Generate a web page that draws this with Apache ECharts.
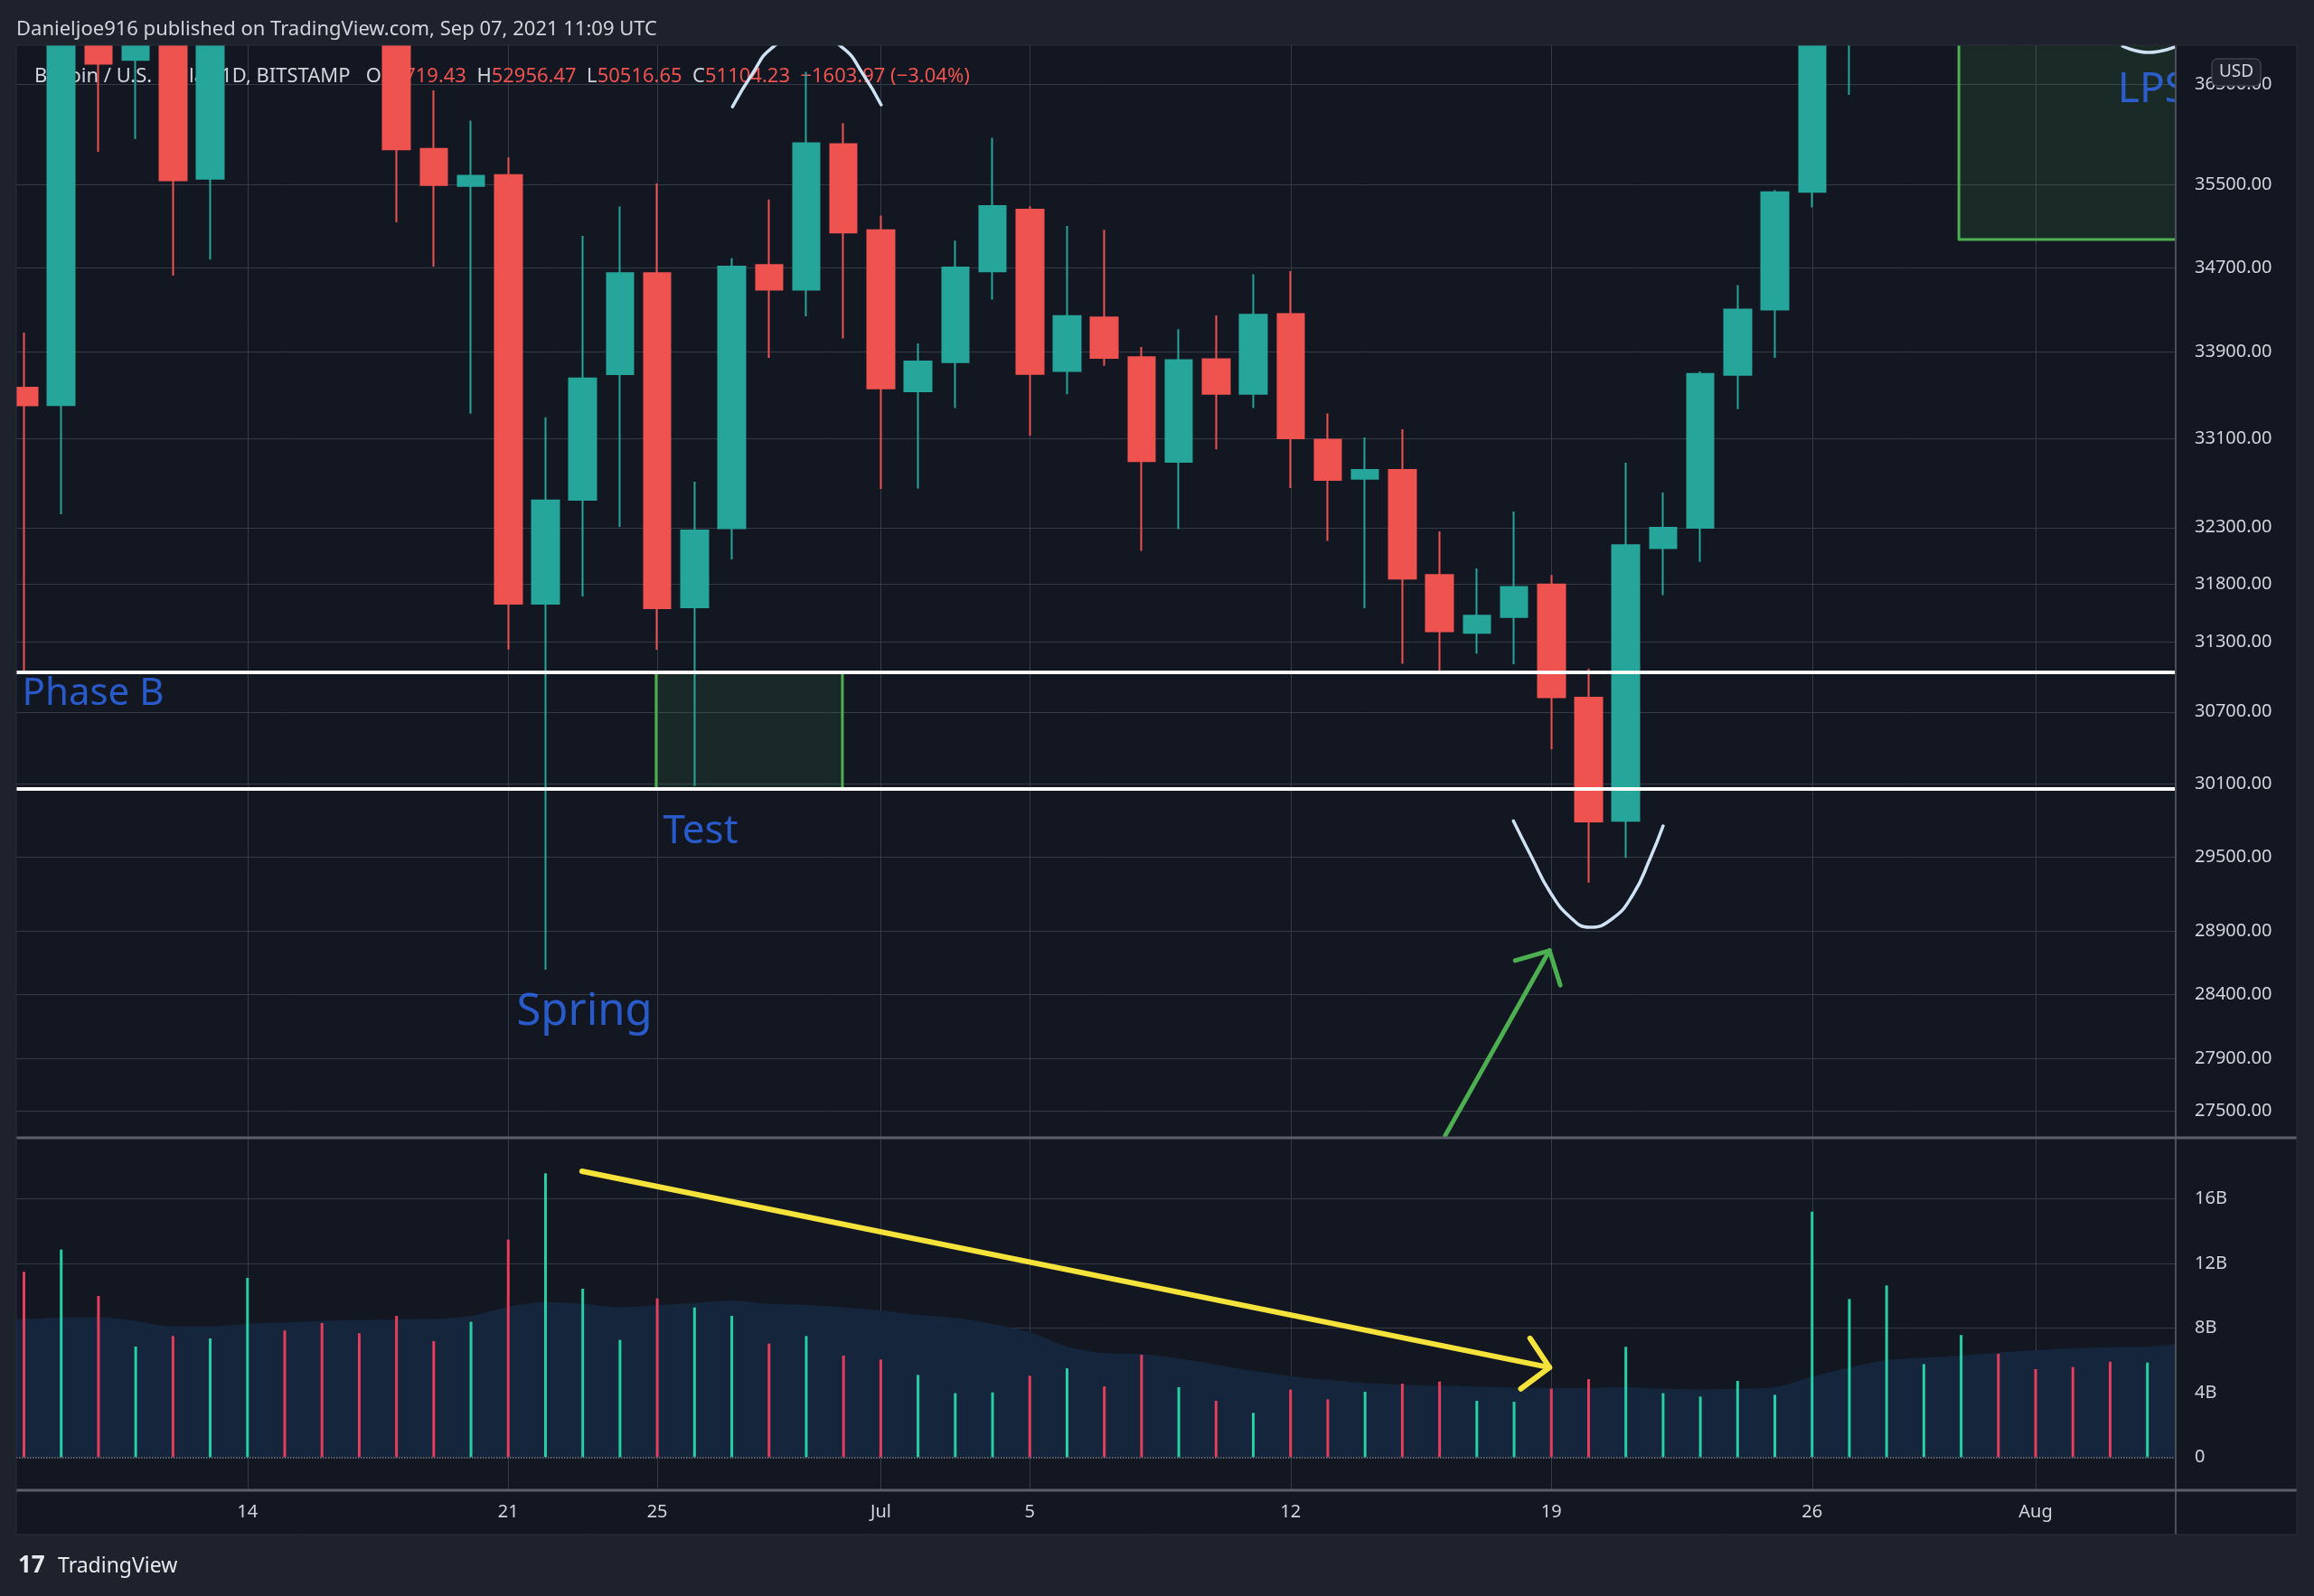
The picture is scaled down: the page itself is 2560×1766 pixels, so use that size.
<!DOCTYPE html>
<html>
<head>
<meta charset="utf-8">
<title>BTCUSD 1D - Bitstamp</title>
<script src="https://cdn.jsdelivr.net/npm/echarts@6/dist/echarts.min.js"></script>
<style>
  html, body { margin: 0; padding: 0; background: #1e222d; }
  #chart { width: 2560px; height: 1766px; }
</style>
</head>
<body>
<div id="chart"></div>
<script>
// daily bars, Jun 7 - Aug 5 2021 (bars above ~36.9k sit off the top of the pane)
const dates = [
  '2021-06-07', '2021-06-08', '2021-06-09', '2021-06-10', '2021-06-11', '2021-06-12', '2021-06-13', '2021-06-14',
  '2021-06-15', '2021-06-16', '2021-06-17', '2021-06-18', '2021-06-19', '2021-06-20', '2021-06-21', '2021-06-22',
  '2021-06-23', '2021-06-24', '2021-06-25', '2021-06-26', '2021-06-27', '2021-06-28', '2021-06-29', '2021-06-30',
  '2021-07-01', '2021-07-02', '2021-07-03', '2021-07-04', '2021-07-05', '2021-07-06', '2021-07-07', '2021-07-08',
  '2021-07-09', '2021-07-10', '2021-07-11', '2021-07-12', '2021-07-13', '2021-07-14', '2021-07-15', '2021-07-16',
  '2021-07-17', '2021-07-18', '2021-07-19', '2021-07-20', '2021-07-21', '2021-07-22', '2021-07-23', '2021-07-24',
  '2021-07-25', '2021-07-26', '2021-07-27', '2021-07-28', '2021-07-29', '2021-07-30', '2021-07-31', '2021-08-01',
  '2021-08-02', '2021-08-03', '2021-08-04', '2021-08-05'
];
const open = [
  35800, 33570, 33410, 37390, 36744, 37340, 35561, 39020, 40520, 40150, 38350, 38100, 35853, 35490, 35596, 31630,
  32548, 33695, 34646, 31599, 32294, 34724, 34490, 35900, 35059, 33536, 33807, 34664, 35258, 33725, 34226, 33854,
  32890, 33834, 33514, 34258, 33093, 32738, 32817, 31880, 31376, 31513, 31797, 30820, 29792, 32117, 32299, 33690,
  34300, 35432, 37270, 39460, 40020, 40040, 42210, 41460, 39850, 39150, 38200, 39740
];
const close = [
  33570, 33407, 37390, 36706, 37340, 35545, 39020, 40520, 40150, 38350, 38100, 35849, 35498, 35588, 31630, 32542,
  33656, 34646, 31590, 32274, 34710, 34490, 35910, 35036, 33564, 33813, 34700, 35293, 33698, 34239, 33846, 32898,
  33826, 33514, 34252, 33104, 32727, 32817, 31849, 31390, 31525, 31775, 30825, 29787, 32144, 32299, 33697, 34300,
  35427, 37270, 39460, 40020, 40040, 42210, 41460, 39850, 39150, 38200, 39740, 40880
];
const low = [
  33300, 31045, 32420, 35824, 35951, 34623, 34777, 38750, 39500, 38120, 37400, 35135, 34709, 33330, 31233, 28595,
  31692, 32306, 31230, 30080, 32018, 33846, 34236, 34028, 32647, 32651, 33381, 34395, 33129, 33510, 33774, 32094,
  32286, 33003, 33381, 32654, 32182, 31590, 31110, 31045, 31197, 31106, 30386, 29288, 29489, 31704, 31997, 33372,
  33846, 35280, 36390, 38800, 39220, 38350, 41050, 39450, 38700, 37650, 37520, 37350
];
const high = [
  36800, 34084, 37540, 38400, 37680, 37440, 39380, 41000, 41330, 40500, 39540, 38200, 36436, 36134, 35770, 33296,
  35004, 35289, 35513, 32711, 34790, 35356, 36623, 36110, 35200, 33981, 34959, 35962, 35290, 35100, 35063, 33947,
  34116, 34245, 34636, 34666, 33333, 33113, 33187, 32266, 31939, 32443, 31880, 31070, 32883, 32613, 33720, 34533,
  35450, 40550, 39540, 40900, 40650, 42320, 42400, 42600, 40400, 39750, 39950, 41400
];
// volume, billions
const volume = [
  9.0, 11.47, 12.85, 9.98, 6.85, 7.5, 7.35, 11.1, 7.84, 8.3, 7.67, 8.75, 7.18, 8.38, 13.47, 17.57,
  10.43, 7.26, 9.83, 9.27, 8.75, 7.03, 7.5, 6.29, 6.04, 5.09, 3.96, 4.01, 5.04, 5.5, 4.38, 6.34,
  4.33, 3.49, 2.74, 4.18, 3.58, 4.05, 4.55, 4.68, 3.49, 3.43, 4.24, 4.83, 6.83, 3.96, 3.75, 4.72,
  3.86, 15.2, 9.79, 10.63, 5.76, 7.56, 6.4, 5.45, 5.58, 5.91, 5.86, 9.5
];
// volume moving average, billions
const volumeMA = [
  8.5, 8.55, 8.65, 8.68, 8.43, 8.1, 8.1, 8.25, 8.34, 8.43, 8.49, 8.53, 8.56, 8.75, 9.31, 9.6,
  9.5, 9.27, 9.42, 9.55, 9.68, 9.5, 9.42, 9.27, 9.09, 8.8, 8.62, 8.25, 7.74, 6.85, 6.44, 6.38,
  6.1, 5.73, 5.35, 5.02, 4.79, 4.6, 4.5, 4.42, 4.37, 4.31, 4.29, 4.29, 4.33, 4.24, 4.2, 4.24,
  4.33, 4.98, 5.54, 6.0, 6.16, 6.29, 6.47, 6.62, 6.75, 6.81, 6.85, 7.1
];
const priceTicks = [36500, 35500, 34700, 33900, 33100, 32300, 31800, 31300, 30700, 30100, 29500, 28900, 28400, 27900, 27500];
const volumeTicks = [0, 4, 8, 12, 16];
const dateLabels = ['14', '21', '25', 'Jul', '5', '12', '19', '26', 'Aug'];
const dateLabelDays = ['2021-06-14', '2021-06-21', '2021-06-25', '2021-07-01', '2021-07-05', '2021-07-12', '2021-07-19', '2021-07-26', '2021-08-01'];

// drawn levels: phase B range lines
const rangeLines = [31040, 30055];

const chart = echarts.init(document.getElementById('chart'));

const upColor = '#26a69a';
const downColor = '#ef5350';
const volUp = '#27cfa6';
const volDown = '#e43d5e';
const gridColor = '#363a45';
const textColor = '#d1d4dc';
const noteBlue = '#2f6bf5';
const frameColor = '#1e222d';
const paneColor = '#131722';
const font = 'Noto Sans';

const xMin = 0.794, xMax = 58.76;
const priceMin = 27300, priceMax = 36893;
const tickIdx = dateLabelDays.map(d => dates.indexOf(d));

const candles = dates.map((d, i) => [i, open[i], close[i], low[i], high[i]]);
const volBars = dates.map((d, i) => ({
  value: [i, volume[i]],
  itemStyle: { color: close[i] >= open[i] ? volUp : volDown }
}));

// annotation drawings, in [day index, price] / [day index, volume]
const notes = [
  { text: 'Phase B', at: [0.94, 30852], size: 42 },
  { text: 'Test', at: [18.14, 29705], size: 44 },
  { text: 'Spring', at: [14.21, 28263], size: 49 },
  { text: 'LPS', at: [57.19, 36436], size: 46 }
];
const arcColor = '#cfe2f3';
const drawings = [
  // arc under the spring low
  { pts: [[40.98, 29792], [41.49, 29484], [41.96, 29216], [42.51, 29011], [43.02, 28931], [43.63, 28998], [44.19, 29192], [44.65, 29484], [45.0, 29750]], color: arcColor, width: 3.5, smooth: true },
  // arc at the top (mostly off-pane)
  { pts: [[20.02, 36272], [20.54, 36596], [21.09, 36870], [22.03, 37040], [22.97, 36870], [23.53, 36596], [24.01, 36292]], color: arcColor, width: 3.5, smooth: true },
  { pts: [[57.33, 36884], [58.03, 36819], [58.74, 36875]], color: arcColor, width: 3.5, smooth: true },
  // green arrow
  { pts: [[39.15, 27316], [41.95, 28746]], color: '#4caf50', width: 5 },
  { pts: [[41.03, 28667], [41.95, 28746], [42.24, 28473]], color: '#4caf50', width: 5 },
  // LPS box edges
  { pts: [[52.94, 38000], [52.94, 34969], [60, 34969]], color: '#4caf50', width: 3 }
];
const volDrawings = [
  { pts: [[15.98, 17.7], [41.95, 5.555]], color: '#f5e33b', width: 6 },
  { pts: [[41.43, 7.36], [41.95, 5.555], [41.18, 4.23]], color: '#f5e33b', width: 6 }
];

const lineSeries = (d, grid) => ({
  type: 'line',
  xAxisIndex: grid, yAxisIndex: grid,
  data: d.pts,
  smooth: d.smooth ? 0.5 : false,
  symbol: 'none',
  silent: true,
  z: 6,
  lineStyle: { color: d.color, width: d.width, cap: 'round', join: 'round' }
});

// horizontal reference lines drawn as markLines (log price scale needs hand-picked ticks)
const tickLines = (grid, values, z, lineStyle, label) => ({
  type: 'line', xAxisIndex: grid, yAxisIndex: grid, data: [], silent: true,
  markLine: {
    z: z, silent: true, symbol: 'none', animation: false,
    lineStyle: lineStyle,
    label: label,
    data: values.map(v => ({ yAxis: v }))
  }
});
const scaleLabel = fmt => ({
  position: 'end', distance: 21, color: textColor, fontSize: 20, fontFamily: font, formatter: fmt
});
const hidden = { color: 'rgba(0,0,0,0)', width: 1 };

const option = {
  backgroundColor: frameColor,
  animation: false,
  textStyle: { fontFamily: font },
  grid: [
    { left: 18, top: 50, width: 2389, height: 1209 },
    { left: 18, top: 1259, width: 2389, height: 390 }
  ],
  xAxis: [
    {
      type: 'value', gridIndex: 0, min: xMin, max: xMax,
      axisLine: { show: false },
      axisTick: { show: false, customValues: tickIdx },
      axisLabel: { show: false, customValues: tickIdx },
      splitLine: { show: true, lineStyle: { color: gridColor, width: 1 } }
    },
    {
      type: 'value', gridIndex: 1, min: xMin, max: xMax,
      axisLine: { show: false },
      axisTick: { show: false, customValues: tickIdx },
      axisLabel: {
        customValues: tickIdx,
        color: textColor, fontSize: 20, margin: 14,
        formatter: v => {
          const k = tickIdx.indexOf(Math.round(v));
          return k >= 0 ? dateLabels[k] : '';
        }
      },
      splitLine: { show: true, lineStyle: { color: gridColor, width: 1 } }
    }
  ],
  yAxis: [
    {
      type: 'log', gridIndex: 0, min: priceMin, max: priceMax, position: 'right',
      axisLine: { show: false }, axisTick: { show: false },
      axisLabel: { show: false }, splitLine: { show: false }
    },
    {
      type: 'value', gridIndex: 1, min: -2.05, max: 19.77, position: 'right',
      axisLine: { show: false },
      axisTick: { show: false, customValues: [4, 8, 12, 16] },
      axisLabel: { show: false },
      splitLine: { show: true, lineStyle: { color: gridColor, width: 1 } }
    }
  ],
  series: [
    tickLines(0, priceTicks, 0, { color: gridColor, width: 1, type: 'solid' }, { show: false }),
    tickLines(0, priceTicks, 20, hidden, scaleLabel(p => Number(p.value).toFixed(2))),
    tickLines(1, volumeTicks, 20, hidden, scaleLabel(p => (p.value === 0 ? '0' : p.value + 'B'))),
    {
      type: 'candlestick',
      xAxisIndex: 0, yAxisIndex: 0,
      data: candles,
      encode: { x: 0, y: [1, 2, 3, 4] },
      barWidth: 30,
      clip: true,
      silent: true,
      itemStyle: {
        color: upColor, color0: downColor,
        borderColor: upColor, borderColor0: downColor,
        borderWidth: 2
      }
    },
    // range lines + boxes
    {
      type: 'line', xAxisIndex: 0, yAxisIndex: 0, data: [], silent: true,
      markLine: {
        z: 5, silent: true, symbol: 'none', animation: false,
        lineStyle: { color: '#ffffff', width: 4, type: 'solid' },
        label: { show: false },
        data: rangeLines.map(v => ({ yAxis: v }))
      },
      markArea: {
        z: 1, silent: true, animation: false,
        data: [
          [{ coord: [17.97, 31040], itemStyle: { color: 'rgba(76,175,80,0.12)', borderColor: '#4caf50', borderWidth: 3 } }, { coord: [22.97, 30055] }],
          [{ coord: [52.94, 34969], itemStyle: { color: 'rgba(76,175,80,0.13)', borderWidth: 0 } }, { coord: [xMax, priceMax] }]
        ]
      }
    },
    {
      type: 'scatter', xAxisIndex: 0, yAxisIndex: 0, silent: true, z: 7,
      symbolSize: 1,
      itemStyle: { color: 'transparent' },
      data: notes.map(n => ({
        value: n.at,
        label: {
          show: true, position: 'right', distance: 0,
          formatter: n.text, color: noteBlue, fontSize: n.size, fontFamily: font
        }
      }))
    },
    ...drawings.map(d => lineSeries(d, 0)),
    // volume pane
    {
      type: 'line', xAxisIndex: 1, yAxisIndex: 1,
      data: volumeMA.map((v, i) => [i, v]),
      smooth: 0.3, symbol: 'none', silent: true, z: 1,
      lineStyle: { width: 0 },
      areaStyle: { color: '#15253b', opacity: 1 },
      markLine: {
        z: 3, silent: true, symbol: 'none', animation: false,
        lineStyle: { color: '#7e818b', width: 1.5, type: 'dotted' },
        label: { show: false },
        data: [{ yAxis: 0 }]
      }
    },
    {
      type: 'bar', xAxisIndex: 1, yAxisIndex: 1,
      data: volBars, barWidth: 3, silent: true, z: 2
    },
    ...volDrawings.map(d => lineSeries(d, 1))
  ],
  graphic: [
    { type: 'rect', z: -100, silent: true, shape: { x: 18, y: 50, width: 2523, height: 1648 }, style: { fill: paneColor } },
    {
      type: 'text', z: 1, silent: true, x: 38, y: 85,
      style: {
        text: '{w|Bitcoin / U.S. Dollar, 1D, BITSTAMP   O}{r|51719.43}{w|  H}{r|52956.47}{w|  L}{r|50516.65}{w|  C}{r|51104.23}{r|  \u22121603.97 (\u22123.04%)}',
        font: '22px "Noto Sans"', verticalAlign: 'middle', textVerticalAlign: 'middle',
        rich: {
          w: { fill: textColor, fontSize: 22, fontFamily: font },
          r: { fill: '#ef5350', fontSize: 22, fontFamily: font }
        }
      }
    },
    // scale backdrop and frame margins (cover anything running past the panes)
    { type: 'rect', z: 10, silent: true, shape: { x: 2408, y: 50, width: 133, height: 1599 }, style: { fill: paneColor } },
    { type: 'rect', z: 12, silent: true, shape: { x: 0, y: 0, width: 2560, height: 50 }, style: { fill: frameColor } },
    { type: 'rect', z: 12, silent: true, shape: { x: 0, y: 0, width: 18, height: 1766 }, style: { fill: frameColor } },
    { type: 'rect', z: 12, silent: true, shape: { x: 2541, y: 0, width: 19, height: 1766 }, style: { fill: frameColor } },
    { type: 'line', z: 13, silent: true, shape: { x1: 2407, y1: 50, x2: 2407, y2: 1698 }, style: { stroke: '#4c505b', lineWidth: 2 } },
    { type: 'line', z: 13, silent: true, shape: { x1: 18, y1: 1259, x2: 2541, y2: 1259 }, style: { stroke: '#5d606b', lineWidth: 3 } },
    { type: 'line', z: 13, silent: true, shape: { x1: 18, y1: 1649, x2: 2541, y2: 1649 }, style: { stroke: '#5d606b', lineWidth: 3 } },
    { type: 'rect', z: 13, silent: true, shape: { x: 18, y: 50, width: 2523, height: 1648 }, style: { fill: 'none', stroke: '#2a2e39', lineWidth: 1 } },
    {
      type: 'text', z: 14, silent: true, x: 18, y: 33,
      style: {
        text: 'Danieljoe916 published on TradingView.com, Sep 07, 2021 11:09 UTC',
        fill: textColor, font: '22px "Noto Sans"', verticalAlign: 'middle', textVerticalAlign: 'middle'
      }
    },
    { type: 'rect', z: 30, silent: true, shape: { x: 2447, y: 65, width: 54, height: 30, r: 6 }, style: { fill: frameColor, stroke: '#50535e', lineWidth: 1 } },
    {
      type: 'text', z: 31, silent: true, x: 2474, y: 80,
      style: { text: 'USD', fill: textColor, font: '19px "Noto Sans"', align: 'center', textAlign: 'center', verticalAlign: 'middle', textVerticalAlign: 'middle' }
    },
    {
      type: 'text', z: 14, silent: true, x: 20, y: 1733,
      style: { text: '17', fill: '#e8e9ee', font: 'bold 26px "Noto Sans"', verticalAlign: 'middle', textVerticalAlign: 'middle' }
    },
    {
      type: 'text', z: 14, silent: true, x: 64, y: 1733,
      style: { text: 'TradingView', fill: '#e8e9ee', font: '23px "Noto Sans"', verticalAlign: 'middle', textVerticalAlign: 'middle' }
    }
  ]
};

chart.setOption(option);
</script>
</body>
</html>
